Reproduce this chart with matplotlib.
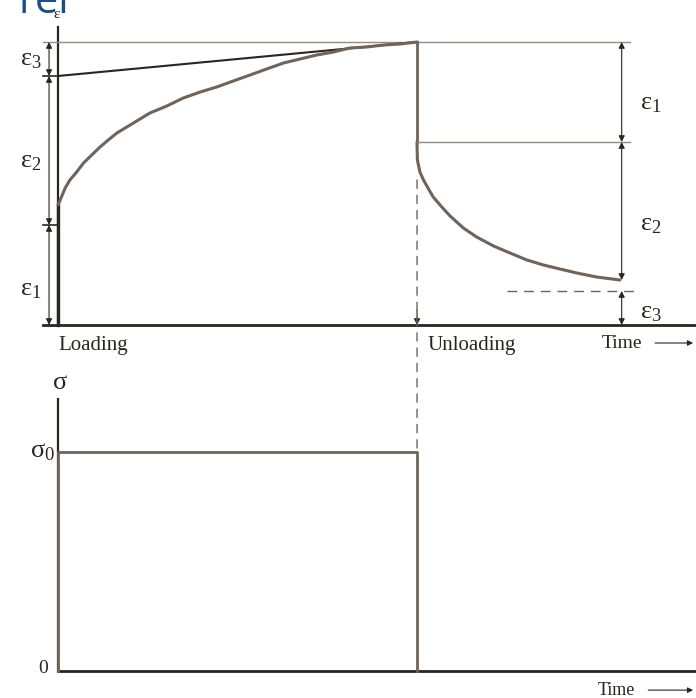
import matplotlib.pyplot as plt
from matplotlib.patches import ConnectionPatch

# temps (unités arbitraires)
t_load = 0.0
t_unload = 10.0
t_dim_right = 15.7
t_end = 17.8

# déformations
eps1 = 1.0
eps2 = 1.49
eps3 = 0.34
eps_total = eps1 + eps2 + eps3

# courbe de fluage (chargement)
creep_t = [0.0, 0.06, 0.20, 0.33, 0.52, 0.71, 0.94, 1.17, 1.40, 1.64, 2.10, 2.56, 3.03,
           3.49, 3.96, 4.42, 4.88, 5.35, 5.81, 6.28, 6.74, 7.21, 7.67, 8.13, 8.60,
           9.06, 9.53, 10.0]
creep_eps = [1.20, 1.25, 1.37, 1.45, 1.53, 1.62, 1.70, 1.78, 1.85, 1.92, 2.02, 2.12, 2.19,
             2.27, 2.33, 2.38, 2.44, 2.50, 2.56, 2.62, 2.66, 2.70, 2.73, 2.77, 2.78,
             2.80, 2.81, 2.83]

# courbe de recouvrance (déchargement)
recov_t = [10.0, 10.0, 10.01, 10.08, 10.18, 10.32, 10.45, 10.69, 10.92, 11.29, 11.66,
           12.13, 12.59, 13.06, 13.52, 13.98, 14.45, 15.0, 15.65]
recov_eps = [1.83, 1.82, 1.65, 1.53, 1.45, 1.36, 1.28, 1.18, 1.09, 0.97, 0.88,
             0.79, 0.72, 0.65, 0.60, 0.56, 0.52, 0.48, 0.45]

# contrainte
sigma0 = 1.0
stress_t = [t_load, t_load, t_unload, t_unload]
stress_val = [0, sigma0, sigma0, 0]

plt.rcParams['font.family'] = ['Liberation Serif', 'DejaVu Serif']

dark = '#2a2521'
brown = '#6f635a'
grey = '#948b84'

fig = plt.figure(figsize=(6.96, 6.98), dpi=100)
ax = fig.add_axes([0, 0, 1, 1])
ax2 = fig.add_axes([0, 0, 1, 1])
for a in (ax, ax2):
    a.set_xlim(-1.616, 17.77)
    a.axis('off')
    a.patch.set_alpha(0)
ax.set_ylim(-3.73, 3.25)
ax2.set_ylim(-0.123, 3.064)

# --- graphe déformation ---
ax.plot([-0.42, t_end], [0, 0], color=dark, lw=2)
ax.plot([0, 0], [0, 2.98], color=dark, lw=1.6)
ax.plot([0, 0], [0, creep_eps[0]], color=dark, lw=2.4)
ax.plot([-0.42, 15.93], [eps_total, eps_total], color=grey, lw=1)
ax.plot([-0.42, 0], [eps1, eps1], color=dark, lw=1.2)
ax.plot([-0.42, 0], [eps1 + eps2, eps1 + eps2], color=dark, lw=1.2)
ax.plot([0, t_unload], [eps1 + eps2, eps_total], color=dark, lw=1.5)
ax.plot(creep_t, creep_eps, color=brown, lw=2.2, solid_capstyle='round', solid_joinstyle='round')
ax.plot([t_unload, t_unload], [eps_total, eps_total - eps1], color=brown, lw=2)
ax.plot(recov_t, recov_eps, color=brown, lw=2.2, solid_capstyle='round', solid_joinstyle='round')
ax.plot([t_unload, 15.93], [eps_total - eps1, eps_total - eps1], color=grey, lw=1)
ax.plot([12.5, 16.2], [eps3, eps3], color=brown, lw=1, ls=(0, (7, 5)))

# flèches de cotes
arr = dict(arrowstyle='<|-|>', color=dark, lw=0.8, mutation_scale=9, shrinkA=0, shrinkB=0)
for lo, hi in [(0, eps1), (eps1, eps1 + eps2), (eps1 + eps2, eps_total)]:
    ax.annotate('', xy=(-0.25, lo), xytext=(-0.25, hi), arrowprops=arr)
for lo, hi in [(eps_total - eps1, eps_total), (recov_eps[-1], eps_total - eps1), (0, eps3)]:
    ax.annotate('', xy=(t_dim_right, lo), xytext=(t_dim_right, hi), arrowprops=arr)

# ligne pointillée verticale reliant les deux graphes
con = ConnectionPatch(xyA=(t_unload, 1.45), coordsA=ax.transData,
                      xyB=(t_unload, sigma0), coordsB=ax2.transData,
                      color=brown, lw=1, ls=(0, (6, 5)))
fig.add_artist(con)
ax.annotate('', xy=(t_unload, 0), xytext=(t_unload, 0.15),
            arrowprops=dict(arrowstyle='-|>', color=dark, lw=0.8, mutation_scale=9,
                            shrinkA=0, shrinkB=0))

# textes
fs_eps = 19
ax.text(-0.05, 3.1, 'ε', fontsize=11, color=dark, ha='center', va='center')
ax.text(-0.45, 0.35, r'$\mathregular{ε_1}$', fontsize=fs_eps, color=dark, ha='right', va='center')
ax.text(-0.45, 1.63, r'$\mathregular{ε_2}$', fontsize=fs_eps, color=dark, ha='right', va='center')
ax.text(-0.45, 2.65, r'$\mathregular{ε_3}$', fontsize=fs_eps, color=dark, ha='right', va='center')
ax.text(16.2, 2.21, r'$\mathregular{ε_1}$', fontsize=fs_eps, color=dark, ha='left', va='center')
ax.text(16.2, 1.0, r'$\mathregular{ε_2}$', fontsize=fs_eps, color=dark, ha='left', va='center')
ax.text(16.2, 0.12, r'$\mathregular{ε_3}$', fontsize=fs_eps, color=dark, ha='left', va='center')

ax.text(0.0, -0.2, 'Loading', fontsize=15, color=dark, ha='left', va='center')
ax.text(10.28, -0.2, 'Unloading', fontsize=15, color=dark, ha='left', va='center')
ax.text(15.15, -0.18, 'Time', fontsize=14, color=dark, ha='left', va='center')
ax.annotate('', xy=(17.69, -0.18), xytext=(16.63, -0.18),
            arrowprops=dict(arrowstyle='-|>', color=dark, lw=0.8, mutation_scale=8,
                            shrinkA=0, shrinkB=0))

# --- graphe contrainte ---
ax2.plot([0, t_end], [0, 0], color=dark, lw=2)
ax2.plot([0, 0], [0, 1.24], color=dark, lw=1.6)
ax2.plot(stress_t, stress_val, color=brown, lw=2)
ax2.text(0.05, 1.315, 'σ', fontsize=19, color=dark, ha='center', va='center')
ax2.text(-0.08, 1.0, r'$\mathregular{σ_0}$', fontsize=19, color=dark, ha='right', va='center')
ax2.text(-0.28, 0.01, '0', fontsize=14, color=dark, ha='right', va='center')
ax2.text(15.04, -0.087, 'Time', fontsize=13, color=dark, ha='left', va='center')
ax2.annotate('', xy=(17.69, -0.087), xytext=(16.44, -0.087),
             arrowprops=dict(arrowstyle='-|>', color=dark, lw=0.8, mutation_scale=8,
                             shrinkA=0, shrinkB=0))

# fragment de titre coupé en haut
fig.text(18 / 696, 1 - 13 / 698, 'rel', fontsize=30, color='#1c4f87',
         family='Open Sans', ha='left', va='baseline')

fig.savefig('out.png', dpi=100)
